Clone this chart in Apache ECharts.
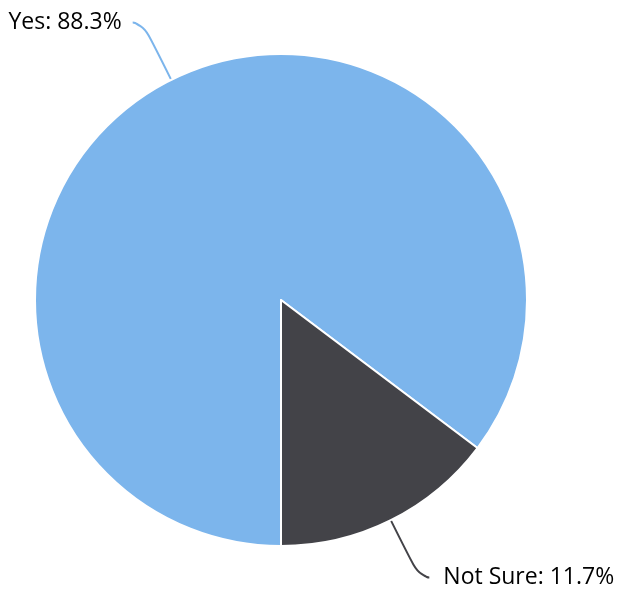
<!DOCTYPE html>
<html>
<head>
<meta charset="utf-8">
<script src="https://cdn.jsdelivr.net/npm/echarts@6/dist/echarts.min.js"></script>
<style>html,body{margin:0;padding:0;background:#fff}#c{width:621px;height:590px}</style>
</head>
<body>
<div id="c"></div>
<script>
const categories = ['Yes', 'Not Sure'];
const values = [88.3, 11.7];
const colors = ['#7cb5ec', '#434348'];
const labelGaps = [11, 14];

const chart = echarts.init(document.getElementById('c'), null, {renderer: 'canvas'});
chart.setOption({
  animation: false,
  backgroundColor: '#ffffff',
  series: [{
    type: 'pie',
    center: [281, 300],
    radius: [0, 246],
    startAngle: 270,
    clockwise: true,
    minAngle: 53,
    avoidLabelOverlap: false,
    itemStyle: { borderColor: '#ffffff', borderWidth: 2 },
    label: {
      show: true,
      position: 'outside',
      formatter: p => p.name + ': ' + p.value + '%',
      fontFamily: 'Open Sans',
      fontSize: 23,
      color: '#000000'
    },
    labelLine: {
      show: true,
      length: 64,
      length2: 10,
      smooth: 0.8,
      lineStyle: { width: 2 }
    },
    data: categories.map((c, i) => ({
      name: c,
      value: values[i],
      itemStyle: { color: colors[i] },
      label: { distanceToLabelLine: labelGaps[i] },
      labelLine: { lineStyle: { color: colors[i] } }
    }))
  }]
});
</script>
</body>
</html>
